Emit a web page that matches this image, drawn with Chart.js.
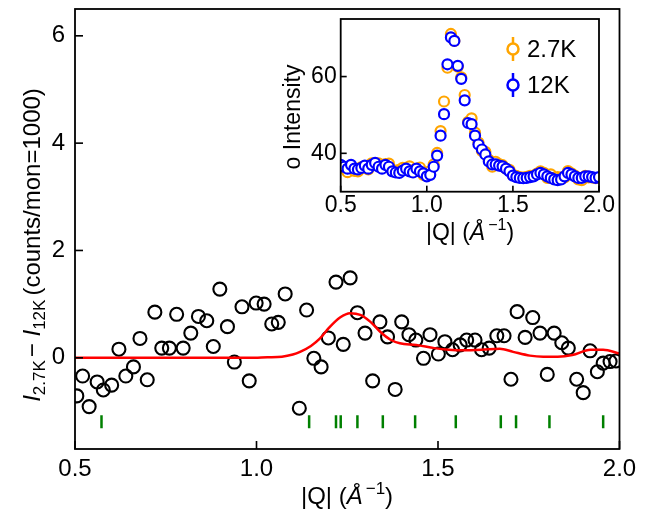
<!DOCTYPE html>
<html><head><meta charset="utf-8">
<script src="https://cdn.jsdelivr.net/npm/chart.js@4.4.1/dist/chart.umd.min.js"></script>
<style>
html,body{margin:0;padding:0;background:#fff;}
#wrap{position:relative;width:661px;height:516px;}
canvas{position:absolute;left:0;top:0;}
</style></head><body>
<div id="wrap"><canvas id="main" width="661" height="516"></canvas><canvas id="inset" width="661" height="516"></canvas></div>
<script>
// ---------- DATA ----------
const qValues = [0.505,0.521,0.539,0.561,0.578,0.601,0.621,0.640,0.661,0.679,0.699,0.720,0.739,0.760,0.780,0.798,0.819,0.840,0.863,0.881,0.899,0.920,0.939,0.960,0.980,0.999,1.021,1.042,1.060,1.079,1.118,1.138,1.158,1.178,1.198,1.219,1.239,1.258,1.278,1.299,1.320,1.340,1.361,1.382,1.400,1.420,1.439,1.460,1.478,1.501,1.519,1.540,1.561,1.579,1.602,1.620,1.641,1.662,1.682,1.701,1.718,1.740,1.761,1.781,1.801,1.820,1.841,1.859,1.882,1.900,1.919,1.939,1.955,1.974,1.990];
const diffValues = [-0.71,-0.34,-0.91,-0.45,-0.60,-0.51,0.16,-0.34,-0.17,0.36,-0.41,0.85,0.18,0.18,0.81,0.18,0.46,0.77,0.69,0.21,1.28,0.58,-0.08,0.95,-0.43,1.02,1.00,0.63,0.66,1.19,-0.94,0.89,-0.01,-0.17,0.37,1.41,0.25,1.49,0.84,0.46,-0.43,0.67,0.39,-0.59,0.67,0.43,0.33,-0.01,0.43,0.07,0.30,0.15,0.24,0.33,0.33,0.15,0.18,0.41,0.41,-0.40,0.86,0.38,0.75,0.46,-0.31,0.46,0.28,0.18,-0.40,-0.65,0.13,-0.26,-0.10,-0.07,-0.06];
const fitQ = [0.50,0.60,0.70,0.80,0.90,0.98,1.03,1.07,1.10,1.12,1.15,1.175,1.20,1.23,1.258,1.286,1.314,1.34,1.368,1.395,1.44,1.49,1.53,1.57,1.62,1.67,1.707,1.753,1.79,1.83,1.87,1.92,1.955,2.00];
const fitValues = [0,0,0,0,0,0,0.01,0.02,0.06,0.11,0.22,0.36,0.56,0.75,0.83,0.80,0.67,0.49,0.34,0.27,0.24,0.18,0.15,0.14,0.15,0.17,0.11,0.04,0.02,0.02,0.05,0.15,0.15,0.08];
const braggQ = [0.573,1.145,1.219,1.232,1.278,1.348,1.437,1.549,1.673,1.715,1.807,1.955];

const insetQ = [0.50,0.52,0.54,0.56,0.58,0.60,0.62,0.64,0.66,0.68,0.70,0.72,0.74,0.76,0.78,0.80,0.82,0.84,0.86,0.88,0.90,0.92,0.94,0.96,0.98,1.00,1.02,1.04,1.06,1.08,1.10,1.12,1.14,1.16,1.18,1.20,1.22,1.24,1.26,1.28,1.30,1.32,1.34,1.36,1.38,1.40,1.42,1.44,1.46,1.48,1.50,1.52,1.54,1.56,1.58,1.60,1.62,1.64,1.66,1.68,1.70,1.72,1.74,1.76,1.78,1.80,1.82,1.84,1.86,1.88,1.90,1.92,1.94,1.96,1.98,2.00];
const int27K = [36.3,36.2,35.1,36.6,35.4,35.3,36.4,36.5,35.8,37.4,37.1,37.4,36.2,37.2,37.3,35.5,35.5,35.7,36.2,36.2,36.6,35.6,35.9,36.3,34.4,35.0,35.4,37.1,40.1,45.8,53.5,62.3,71.1,69.3,62.6,59.8,55.2,48.2,49.1,45.4,42.8,40.6,40.4,38.3,36.5,37.8,37.2,36.9,36.0,35.7,34.3,34.1,33.8,33.7,33.9,34.1,34.2,34.7,35.3,34.9,33.6,34.5,33.6,33.8,33.7,33.7,35.4,34.8,34.2,33.2,33.0,34.1,33.7,33.7,33.5,33.7];
const int12K = [37.0,36.5,36.0,37.0,36.0,35.8,36.2,36.8,36.0,37.0,37.5,36.5,36.0,37.0,36.5,35.3,35.0,34.9,35.5,36.0,35.3,35.0,36.0,35.3,34.8,34.0,34.4,36.5,39.4,44.6,50.2,63.2,70.2,69.3,62.8,59.4,53.8,47.9,47.6,44.6,42.3,41.0,39.7,37.9,37.1,37.1,36.8,36.6,36.0,35.3,34.2,33.8,33.6,33.5,33.6,33.8,34.0,34.5,34.9,34.5,34.0,33.6,33.2,33.0,33.2,34.0,34.9,34.5,34.0,33.6,33.6,34.0,34.0,33.8,33.6,33.8];

const mainXTicks = [0.5,1.0,1.5,2.0];
const mainYTicks = [0,2,4,6];
const insetXTicks = [0.5,1.0,1.5,2.0];
const insetYTicks = [40,60];
const legendLabels = ['2.7K','12K'];

// ---------- STYLE ----------
const FONT = '"Liberation Sans", Arial, sans-serif';
const BRAGG_Y = -1.19;

function drawRich(ctx, segs, x, y, rot){
  ctx.save();
  ctx.translate(x,y); ctx.rotate(rot||0);
  let total=0;
  segs.forEach(s=>{ctx.font=(s.it?'italic ':'')+s.size+'px '+FONT; s.w=ctx.measureText(s.t).width+(s.gap||0); total+=s.w;});
  let cx=-total/2;
  ctx.textBaseline='alphabetic'; ctx.textAlign='left'; ctx.fillStyle='#000';
  segs.forEach(s=>{ctx.font=(s.it?'italic ':'')+s.size+'px '+FONT; ctx.fillText(s.t,cx,s.dy||0); cx+=s.w;});
  ctx.restore();
}

function frameAndTicks(len, lw){
  return {
    id:'frame',
    afterDraw(chart){
      const ctx=chart.ctx, a=chart.chartArea, xs=chart.scales.x, ys=chart.scales.y;
      ctx.save();
      ctx.strokeStyle='#000'; ctx.lineWidth=lw;
      ctx.strokeRect(a.left,a.top,a.right-a.left,a.bottom-a.top);
      ctx.lineWidth=lw*0.9;
      xs.ticks.forEach(t=>{const px=xs.getPixelForValue(t.value); ctx.beginPath(); ctx.moveTo(px,a.bottom); ctx.lineTo(px,a.bottom-len); ctx.stroke();});
      ys.ticks.forEach(t=>{const py=ys.getPixelForValue(t.value); ctx.beginPath(); ctx.moveTo(a.left,py); ctx.lineTo(a.left+len,py); ctx.stroke();});
      ctx.restore();
    }
  };
}

const mainTitles = {
  id:'mainTitles',
  afterDraw(chart){
    const ctx=chart.ctx;
    drawRich(ctx,[{t:'|Q| (',size:24},{t:'Å',size:24,it:true,gap:3},{t:'−1',size:17,dy:-10},{t:')',size:24}],347,504,0);
    drawRich(ctx,[{t:'I',size:24,it:true},{t:'2.7K',size:17,dy:5,gap:3},{t:'− ',size:24},{t:'I',size:24,it:true},{t:'12K',size:17,dy:5,gap:4},{t:'(counts/mon=1000)',size:24}],40,245,-Math.PI/2);
  }
};

function noPad(s){ s.paddingTop=0; s.paddingBottom=0; s.paddingLeft=0; s.paddingRight=0; }

new Chart(document.getElementById('main'),{
  data:{datasets:[
    {type:'line',data:fitQ.map((q,i)=>({x:q,y:fitValues[i]})),borderColor:'#ff0000',borderWidth:2.5,pointRadius:0,cubicInterpolationMode:'monotone',order:0},
    {type:'scatter',data:qValues.map((q,i)=>({x:q,y:diffValues[i]})),borderColor:'#000',backgroundColor:'rgba(0,0,0,0)',borderWidth:2.1,pointRadius:6.5,order:1},
    {type:'scatter',data:braggQ.map(q=>({x:q,y:BRAGG_Y})),pointStyle:'line',rotation:90,pointRadius:6.5,borderColor:'#008000',borderWidth:2.5,order:2}
  ]},
  options:{
    responsive:false,animation:false,devicePixelRatio:1,
    layout:{padding:{top:9,right:41.5,left:0,bottom:0}},
    plugins:{legend:{display:false},tooltip:{enabled:false}},
    scales:{
      x:{type:'linear',min:0.5,max:2.0,grid:{display:false,drawTicks:false},border:{display:false},
         afterBuildTicks:s=>{s.ticks=mainXTicks.map(v=>({value:v}));},
         afterFit:s=>{s.height=67; noPad(s);},
         ticks:{color:'#000',font:{size:24,family:FONT},padding:6,maxRotation:0,callback:v=>v.toFixed(1)}},
      y:{type:'linear',min:-1.7,max:6.5,grid:{display:false,drawTicks:false},border:{display:false},
         afterBuildTicks:s=>{s.ticks=mainYTicks.map(v=>({value:v}));},
         afterFit:s=>{s.width=75; noPad(s);},
         ticks:{color:'#000',font:{size:24,family:FONT},padding:10,callback:v=>String(v)}}
    }
  },
  plugins:[frameAndTicks(8,1.8),mainTitles]
});

const insetDecor = {
  id:'insetDecor',
  beforeDraw(chart){
    const ctx=chart.ctx,a=chart.chartArea;
    ctx.save(); ctx.fillStyle='#fff'; ctx.fillRect(a.left,a.top,a.right-a.left,a.bottom-a.top); ctx.restore();
  },
  afterDraw(chart){
    const ctx=chart.ctx;
    drawRich(ctx,[{t:'|Q| (',size:23},{t:'Å',size:23,it:true,gap:3},{t:'−1',size:16,dy:-10},{t:')',size:23}],470,240,0);
    drawRich(ctx,[{t:'o Intensity',size:23}],300,117,-Math.PI/2);
    // legend
    const cols=['#FFA500','#0000FF'], ys=[49,85];
    ctx.save();
    legendLabels.forEach((lab,i)=>{
      const mx=513,my=ys[i];
      ctx.strokeStyle=cols[i]; ctx.lineWidth=2.5;
      ctx.beginPath(); ctx.moveTo(mx,my-12); ctx.lineTo(mx,my+12); ctx.stroke();
      ctx.fillStyle='#fff'; ctx.beginPath(); ctx.arc(mx,my,5.5,0,Math.PI*2); ctx.fill(); ctx.stroke();
      ctx.fillStyle='#000'; ctx.font='24px '+FONT; ctx.textBaseline='middle'; ctx.textAlign='left';
      ctx.fillText(lab,527,my+1);
    });
    ctx.restore();
  }
};

new Chart(document.getElementById('inset'),{
  data:{datasets:[
    {type:'scatter',data:insetQ.map((q,i)=>({x:q,y:int12K[i]})),borderColor:'#0000FF',backgroundColor:'#fff',borderWidth:2.2,pointRadius:5,order:0},
    {type:'scatter',data:insetQ.map((q,i)=>({x:q,y:int27K[i]})),borderColor:'#FFA500',backgroundColor:'#fff',borderWidth:2.2,pointRadius:5,order:1}
  ]},
  options:{
    responsive:false,animation:false,devicePixelRatio:1,
    layout:{padding:{top:19,right:62,left:270.7,bottom:264.3}},
    plugins:{legend:{display:false},tooltip:{enabled:false}},
    scales:{
      x:{type:'linear',min:0.5,max:2.0,grid:{display:false,drawTicks:false},border:{display:false},
         afterBuildTicks:s=>{s.ticks=insetXTicks.map(v=>({value:v}));},
         afterFit:s=>{s.height=60; noPad(s);},
         ticks:{color:'#000',font:{size:23,family:FONT},padding:0,maxRotation:0,callback:v=>v.toFixed(1)}},
      y:{type:'linear',min:30,max:75,grid:{display:false,drawTicks:false},border:{display:false},
         afterBuildTicks:s=>{s.ticks=insetYTicks.map(v=>({value:v}));},
         afterFit:s=>{s.width=70; noPad(s);},
         ticks:{color:'#000',font:{size:23,family:FONT},padding:4,callback:v=>String(v)}}
    }
  },
  plugins:[insetDecor,frameAndTicks(6,1.8)]
});
</script>
</body></html>
